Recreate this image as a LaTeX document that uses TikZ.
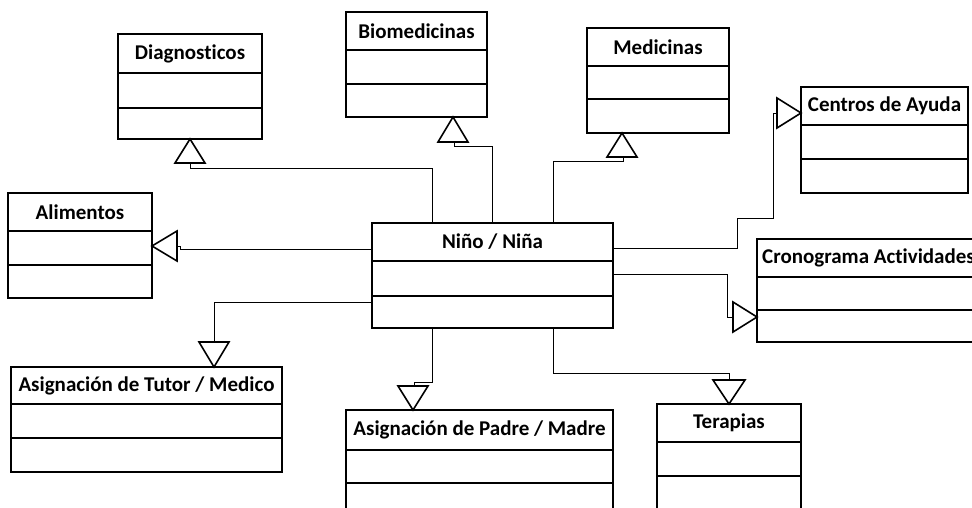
\documentclass[tikz,border=0pt]{standalone}
\usepackage{fontspec}
\setmainfont{Carlito}[Ligatures=NoCommon]
\usetikzlibrary{calc}
% name, x1, y1, x2, y2(bottom), header line, second line, title
\newcommand\umlcls[8]{%
  \node[classbox, minimum width={(#4-#2)*1pt}, minimum height={(#5-#3)*1pt}] (#1) at (#2,#3) {};
  \draw[sepline] (#2,#6) -- (#4,#6) (#2,#7) -- (#4,#7);
  \node[ttl] (#1-t) at ({(#2+#4)/2},{(#3+#6)/2}) {#8};}
\begin{document}
\begin{tikzpicture}[x=1pt,y=-1pt,
  classbox/.style={draw, line width=1.8pt, inner sep=0pt, outer sep=0pt, anchor=north west},
  sepline/.style={line width=1.8pt},
  ttl/.style={font=\fontsize{21}{25}\selectfont\bfseries, inner sep=0pt},
  conn/.style={line width=0.9pt},
  gtri/.style={line width=1.6pt, line join=miter, fill=white}]
\useasboundingbox (0,0) rectangle (972,508);
\clip (0,0) rectangle (972,508);

\umlcls{nino}{372}{223}{613}{328}{261}{296}{Niño / Niña}
\umlcls{diag}{118}{34}{262}{139}{73}{108}{Diagnosticos}
\umlcls{bio}{346}{12}{487}{117}{50}{84}{Biomedicinas}
\umlcls{med}{587}{28}{729}{133}{66}{99}{Medicinas}
\umlcls{cen}{801}{87}{968}{193}{125}{159}{Centros de Ayuda}
\umlcls{cro}{757}{239}{980}{342}{277}{310}{Cronograma Actividades}
\umlcls{ali}{8}{193}{152}{298}{231}{265}{Alimentos}
\umlcls{tut}{11}{367}{282}{472}{404}{438}{Asignación de Tutor / Medico}
\umlcls{pad}{346}{410}{613}{530}{450}{483}{Asignación de Padre / Madre}
\umlcls{ter}{657}{404}{801}{530}{442}{476}{Terapias}

% connectors
\draw[conn] ($(nino.north west)+(60,0)$) |- ($(diag.south)+(0,29)$) -- ($(diag.south)+(0,24)$);
\draw[conn] ($(nino.north west)+(120,0)$) |- ($(bio.south west)+(108,29)$) -- ($(bio.south west)+(108,25)$);
\draw[conn] ($(nino.north west)+(181,0)$) |- ($(med.south west)+(36,28)$) -- ($(med.south west)+(36,24)$);
\draw[conn] ($(nino.north east)+(0,25)$) -- ++(124,0) |- ++(36,-30) |- ($(cen.north west)+(-24,26)$);
\draw[conn] ($(nino.north east)+(0,51)$) -| ($(cro.north west)+(-30,78)$) -- ($(cro.north west)+(-24,78)$);
\draw[conn] ($(nino.north west)+(0,26)$) -| ($(ali.north east)+(28,53)$) -- ($(ali.north east)+(25,53)$);
\draw[conn] ($(nino.north west)+(0,79)$) -| ($(tut.north west)+(203,-25)$);
\draw[conn] ($(nino.south west)+(60,0)$) |- ($(pad.north west)+(68,-28)$) -- ($(pad.north west)+(68,-24)$);
\draw[conn] ($(nino.south west)+(181,0)$) |- ($(ter.north)+(0,-31)$) -- ($(ter.north)+(0,-24)$);

% generalization triangles
\draw[gtri] (diag.south) -- ++(-15,24) -- ++(30,0) -- cycle;
\draw[gtri] ($(bio.south west)+(107,0)$) -- ++(-15,25) -- ++(30,0) -- cycle;
\draw[gtri] ($(med.south west)+(35,0)$) -- ++(-15,24) -- ++(30,0) -- cycle;
\draw[gtri] ($(cen.north west)+(0,26)$) -- ++(-24,-15) -- ++(0,30) -- cycle;
\draw[gtri] ($(cro.north west)+(0,78)$) -- ++(-24,-15) -- ++(0,30) -- cycle;
\draw[gtri] ($(ali.north east)+(0,53)$) -- ++(25,-15) -- ++(0,30) -- cycle;
\draw[gtri] ($(tut.north west)+(203,0)$) -- ++(-15,-25) -- ++(30,0) -- cycle;
\draw[gtri] ($(pad.north west)+(67,0)$) -- ++(-15,-24) -- ++(30,0) -- cycle;
\draw[gtri] (ter.north) -- ++(-16,-24) -- ++(32,0) -- cycle;
\end{tikzpicture}
\end{document}
